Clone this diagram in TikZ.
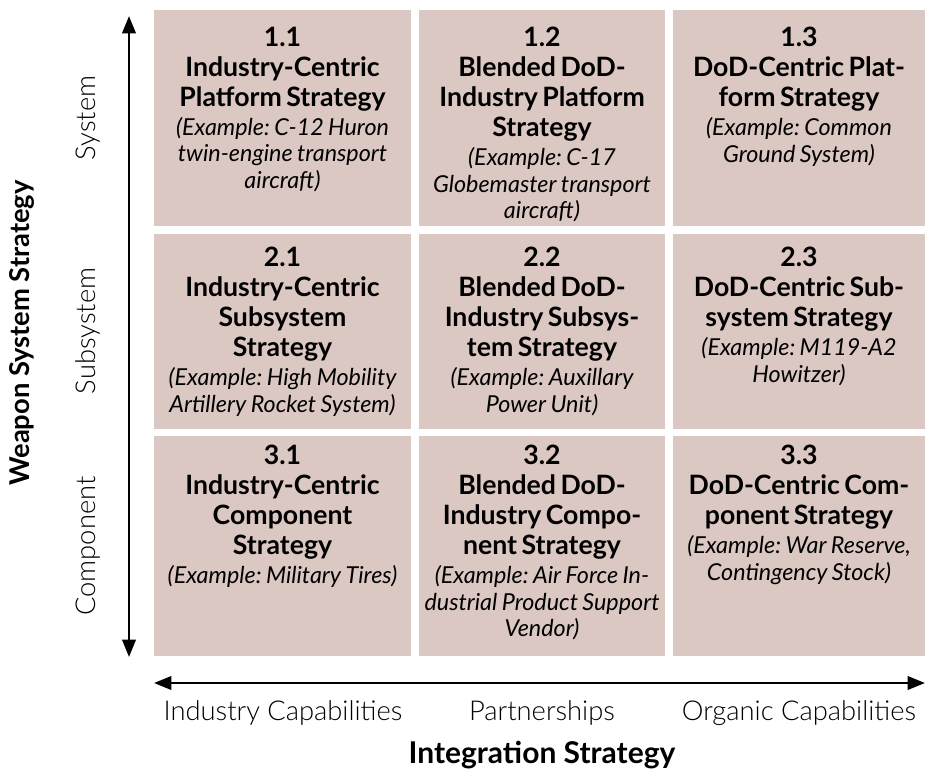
\documentclass[tikz,border=0pt]{standalone}
\usepackage{fontspec}
\setmainfont{Lato}
\newfontfamily\lightfont{Lato Light}
\usepackage{tikz}
\usetikzlibrary{arrows.meta}
\definecolor{cellfill}{RGB}{220,200,194}
\frenchspacing
\newcommand{\cellbody}[2]{{\bfseries\fontsize{20}{22.5}\selectfont #1\par}\vspace{1.5pt}{\itshape\fontsize{17.5}{20}\selectfont #2\par}}

\begin{document}
\begin{tikzpicture}[x=0.75pt,y=-0.75pt,
	cell/.style={fill=cellfill},
	celltext/.style={anchor=north,align=center,inner sep=0pt,text width=190pt},
	sidelabel/.style={font=\lightfont\fontsize{20.5}{24}\selectfont,inner sep=0pt},
	axtitle/.style={font=\bfseries\fontsize{21.5}{25}\selectfont,inner sep=0pt},
	axis/.style={line width=2pt,{Triangle[length=13pt,width=10pt]}-{Triangle[length=13pt,width=10pt]}}]
	\useasboundingbox (0,0) rectangle (925,769);
	\foreach \r/\top/\bot/\ttop in {1/10/226/27,2/234/429/247,3/436/656/445}
		\foreach \c/\lft/\rgt in {1/154/411,2/419/665,3/673/925} {
			\fill[cell] (\lft,\top) rectangle (\rgt,\bot);
			\coordinate (n\r\c) at ({(\lft+\rgt)/2},\ttop);
		}
	\foreach \rc/\idx/\ttl/\ex in {
		11/1.1/{Industry-Centric\\Platform Strategy}/{(Example: C-12 Huron\\twin-engine transport\\aircraft)},
		12/1.2/{Blended DoD-\\Industry Platform\\Strategy}/{(Example: C-17\\Globemaster transport\\aircraft)},
		13/1.3/{DoD-Centric Plat-\\form Strategy}/{(Example: Common\\Ground System)},
		21/2.1/{Industry-Centric\\Subsystem\\Strategy}/{(Example: High Mobility\\Artillery Rocket System)},
		22/2.2/{Blended DoD-\\Industry Subsys-\\tem Strategy}/{(Example: Auxillary\\Power Unit)},
		23/2.3/{DoD-Centric Sub-\\system Strategy}/{(Example: M119-A2\\Howitzer)},
		31/3.1/{Industry-Centric\\Component\\Strategy}/{(Example: Military Tires)},
		32/3.2/{Blended DoD-\\Industry Compo-\\nent Strategy}/{(Example: Air Force In-\\dustrial Product Support\\Vendor)},
		33/3.3/{DoD-Centric Com-\\ponent Strategy}/{(Example: War Reserve,\\Contingency Stock)}}
		\node[celltext] (t\rc) at (n\rc) {\cellbody{\idx\\\ttl}{\ex}};

	% axes
	\coordinate (ytop) at (129,16);
	\coordinate (ybot) at (129,657);
	\coordinate (xl) at (154,683);
	\coordinate (xr) at (925,683);
	\draw[axis] (ytop) -- (ybot);
	\draw[axis] (xl) -- (xr);

	\node[sidelabel,rotate=90] (sys) at (88,118) {System};
	\node[sidelabel,rotate=90] (sub) at (88,331) {Subsystem};
	\node[sidelabel,rotate=90] (comp) at (88,546) {Component};
	\node[axtitle,rotate=90,font=\bfseries\fontsize{20.5}{24}\selectfont] (wss) at (22,333) {Weapon System Strategy};
	\node[sidelabel] (ind) at (283,713) {Industry Capabilities};
	\node[sidelabel] (part) at (542,713) {Partnerships};
	\node[sidelabel] (org) at (799,713) {Organic Capabilities};
	\node[axtitle,font=\bfseries\fontsize{22.5}{26}\selectfont] (ist) at (542,755) {Integration Strategy};
\end{tikzpicture}
\end{document}
